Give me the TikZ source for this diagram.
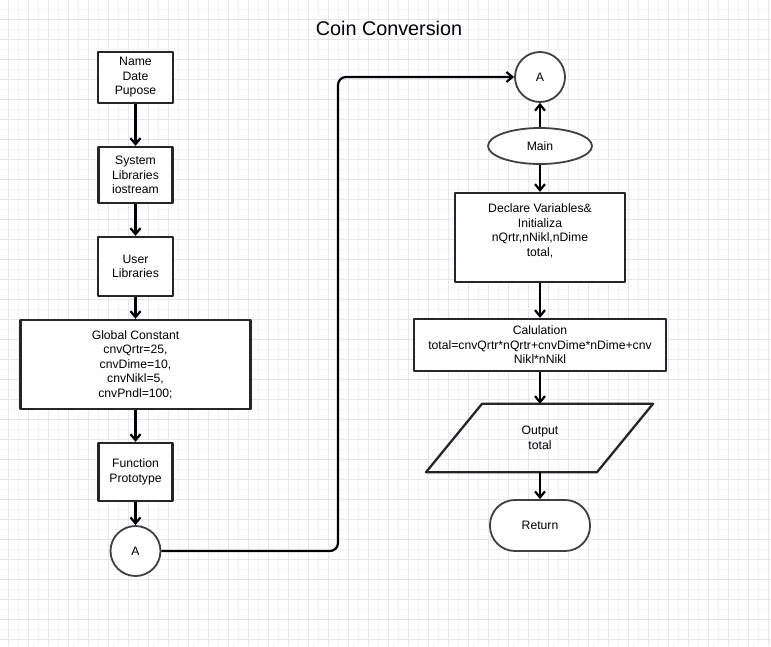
\documentclass[tikz,border=0pt]{standalone}
\usepackage{fontspec}
\setmainfont{Liberation Sans}
\usetikzlibrary{arrows.meta,shapes.geometric}
\definecolor{gridmajor}{HTML}{E7E5F1}
\definecolor{gridminor}{HTML}{F3F2F8}
\begin{document}
\begin{tikzpicture}[x=1pt,y=-1pt,line join=round,
	>={Straight Barb[length=6pt,width=10pt]},
	font=\fontsize{12.2}{14.5}\selectfont,
	box/.style={draw=black!85,line width=2.3pt,fill=white,align=center,inner sep=0pt},
	circ/.style={box,circle,minimum size=50pt,draw=black!75,line width=1.8pt},
	flow/.style={->,line width=2.2pt}]
	\path[use as bounding box,fill=white] (0,0) rectangle (771,646);
	% grid
	\foreach \x in {18,38,...,758} \draw[gridminor,line width=1pt] (\x,0)--(\x,646);
	\foreach \y in {9,29,...,629} \draw[gridminor,line width=1pt] (0,\y)--(771,\y);
	\foreach \x in {8,28,...,768} \draw[gridmajor,line width=1pt] (\x,0)--(\x,646);
	\foreach \y in {19,39,...,639} \draw[gridmajor,line width=1pt] (0,\y)--(771,\y);
	\node[font=\fontsize{19.8}{22}\selectfont] (title) at (389,28) {Coin Conversion};
	% left column
	\node[box,minimum width=75pt,minimum height=51pt] (name) at (135.5,77.5) {Name\\Date\\Pupose};
	\node[box,minimum width=74pt,minimum height=56pt] (syslib) at (135.5,175) {System\\Libraries\\iostream};
	\node[box,minimum width=75pt,minimum height=59pt] (usrlib) at (135.5,266.5) {User\\Libraries};
	\node[box,minimum width=230pt,minimum height=89pt] (global) at (135.5,364.5)
		{Global Constant\\cnvQrtr=25,\\cnvDime=10,\\cnvNikl=5,\\cnvPndl=100;};
	\node[box,minimum width=74pt,minimum height=58pt] (proto) at (135.5,472) {Function\\Prototype};
	\node[circ] (a1) at (135.5,551) {A};
	% right column
	\node[circ] (a2) at (540,77) {A};
	\node[box,ellipse,minimum width=104pt,minimum height=36pt,draw=black!75,line width=1.8pt] (main) at (540,146) {Main};
	\node[box,minimum width=170pt,minimum height=89pt] (declare) at (540,237.5)
		{Declare Variables\&\\Initializa\\nQrtr,nNikl,nDime\\total,\\\mbox{}};
	\node[box,minimum width=252pt,minimum height=52pt] (calc) at (540,345)
		{Calulation\\total=cnvQrtr*nQrtr+cnvDime*nDime+cnv\\Nikl*nNikl};
	\node[align=center,inner sep=0pt,minimum height=68pt] (out) at (540,438) {Output\\total};
	\draw[box,fill=none] ([xshift=-58pt]out.north) -- ([xshift=113pt]out.north)
		-- ([xshift=57pt]out.south) -- ([xshift=-114pt]out.south) -- cycle;
	\node[box,rounded corners=25pt,minimum width=100pt,minimum height=51pt,draw=black!75,line width=1.8pt] (ret) at (540,525.5) {Return};
	\coordinate (jog) at (338,77);
	\foreach \a/\b in {name/syslib,syslib/usrlib,usrlib/global,global/proto,proto/a1,main/a2,main/declare,declare/calc,calc/out,out/ret}
	\draw[flow] (\a)--(\b);
	\draw[flow,rounded corners=8pt] (a1.east) -| (jog) -- (a2.west);
\end{tikzpicture}
\end{document}
